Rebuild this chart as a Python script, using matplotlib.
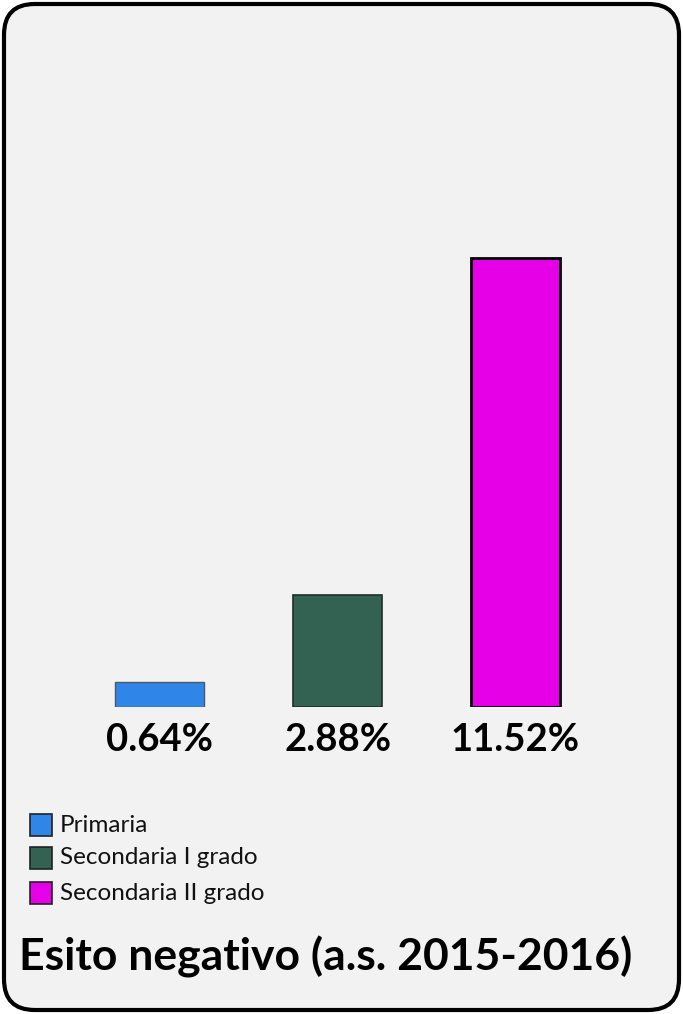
import matplotlib.pyplot as plt
from matplotlib.patches import FancyBboxPatch, Rectangle

plt.rcParams['font.family'] = ['Lato', 'DejaVu Sans']

categories = ['Primaria', 'Secondaria I grado', 'Secondaria II grado']
values = [0.64, 2.88, 11.52]
labels = ['0.64%', '2.88%', '11.52%']
colors = ['#2f86e8', '#336152', '#e600e8']
edges = ['#4d5a66', '#1e2e28', '#000000']
edge_widths = [1.0, 1.2, 2.0]
title = 'Esito negativo (a.s. 2015-2016)'

W, H = 683, 1014
fig = plt.figure(figsize=(W / 100, H / 100), dpi=100)
fig.patch.set_facecolor('white')


def px(x, y):
    # pixel coords (from top-left) -> figure fraction
    return x / W, 1 - y / H


# rounded panel, behind the axes
panel = FancyBboxPatch((4 / W, 4 / H), (W - 8) / W, (H - 8) / H,
                       boxstyle='round,pad=0,rounding_size=0.045',
                       transform=fig.transFigure, facecolor='#f2f2f2',
                       edgecolor='black', linewidth=3, mutation_aspect=W / H,
                       zorder=-10)
fig.patches.append(panel)

# axes: baseline at y=707 px, x centres of bars ~160, 338, 516 px
ax = fig.add_axes([71.0 / W, 307 / H, 533.3 / W, 507 / H])
ax.set_facecolor('none')
ax.set_zorder(5)
ymax = values[2] * (707 - 200) / (707 - 258)
x = range(len(values))
ax.bar(x, values, width=0.5, color=colors, edgecolor=edges, linewidth=edge_widths)
ax.set_xlim(-0.5, 2.5)
ax.set_ylim(0, ymax)
ax.axis('off')

for i, lab in enumerate(labels):
    ax.annotate(lab, (i, 0), xytext=(0, -24), textcoords='offset points',
                ha='center', va='center', fontsize=27.5, fontweight='bold',
                color='black', annotation_clip=False)

# legend
leg_y = [825, 858, 893]
for cat, c, e, y in zip(categories, colors, edges, leg_y):
    x0, y0 = px(30, y + 11)
    fig.patches.append(Rectangle((x0, y0), 22 / W, 22 / H, transform=fig.transFigure,
                                 facecolor=c, edgecolor='#222222', linewidth=1.2))
    tx, ty = px(60, y)
    fig.text(tx, ty, cat, fontsize=17.5, va='center', ha='left', color='#111111')

tx, ty = px(326, 957)
fig.text(tx, ty, title, fontsize=32, fontweight='bold', ha='center', va='center')

fig.savefig('out.png', dpi=100, facecolor='white')
